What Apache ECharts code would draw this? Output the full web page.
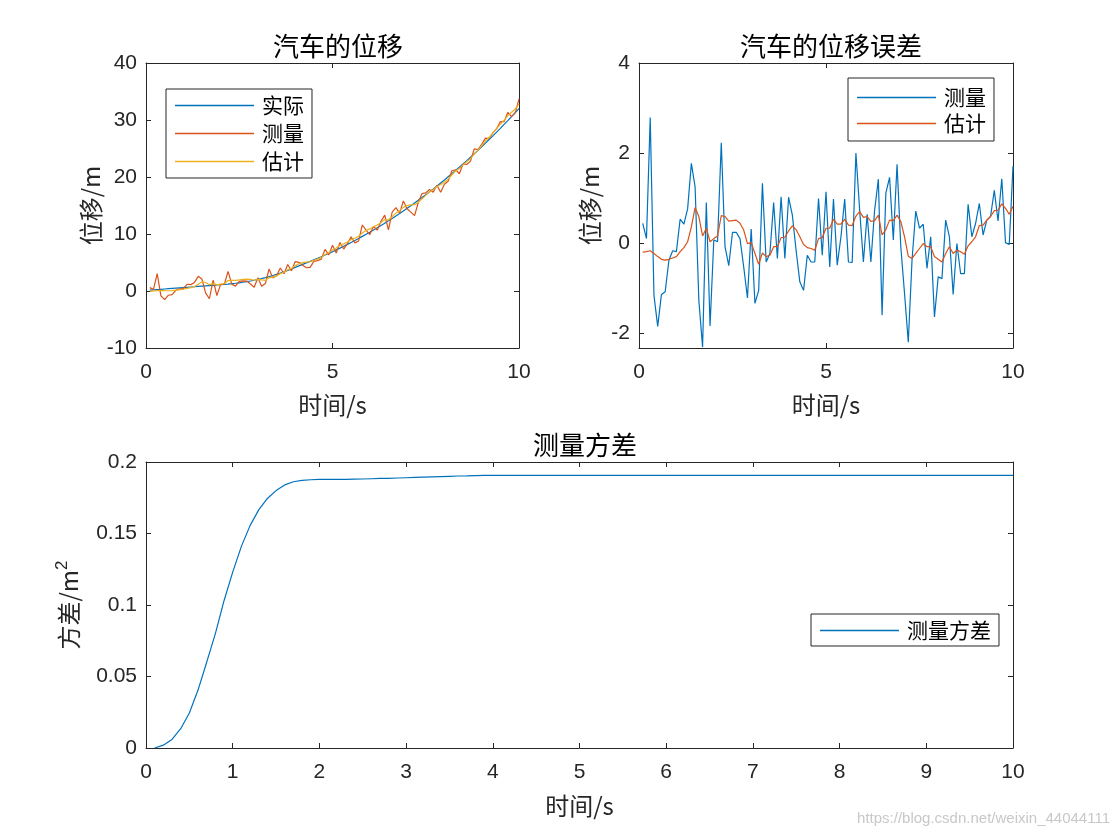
<!DOCTYPE html>
<html>
<head>
<meta charset="utf-8">
<script src="https://cdn.jsdelivr.net/npm/echarts@6/dist/echarts.min.js"></script>
<style>
html,body{margin:0;padding:0;background:#fff;}
#c{width:1120px;height:840px;}
</style>
</head>
<body>
<div id="c"></div>
<script>
// time axis: t = 0.1 .. 10.0 (step 0.1)
const time = [0.1,0.2,0.3,0.4,0.5,0.6,0.7,0.8,0.9,1.0,1.1,1.2,1.3,1.4,1.5,1.6,1.7,1.8,1.9,2.0,
2.1,2.2,2.3,2.4,2.5,2.6,2.7,2.8,2.9,3.0,3.1,3.2,3.3,3.4,3.5,3.6,3.7,3.8,3.9,4.0,
4.1,4.2,4.3,4.4,4.5,4.6,4.7,4.8,4.9,5.0,5.1,5.2,5.3,5.4,5.5,5.6,5.7,5.8,5.9,6.0,
6.1,6.2,6.3,6.4,6.5,6.6,6.7,6.8,6.9,7.0,7.1,7.2,7.3,7.4,7.5,7.6,7.7,7.8,7.9,8.0,
8.1,8.2,8.3,8.4,8.5,8.6,8.7,8.8,8.9,9.0,9.1,9.2,9.3,9.4,9.5,9.6,9.7,9.8,9.9,10.0];

// 汽车的位移
const actualPos = [0.15,0.20,0.25,0.30,0.35,0.40,0.45,0.50,0.55,0.60,0.65,0.70,0.75,0.80,0.85,0.90,0.95,1.00,1.05,1.10,
1.16,1.22,1.29,1.36,1.44,1.53,1.64,1.76,1.89,2.03,2.18,2.35,2.53,2.72,2.92,3.13,3.36,3.61,3.87,4.14,
4.41,4.68,4.94,5.20,5.47,5.74,6.02,6.31,6.60,6.90,7.21,7.52,7.85,8.18,8.52,8.86,9.21,9.58,9.94,10.32,
10.70,11.09,11.49,11.90,12.31,12.73,13.16,13.60,14.05,14.50,14.96,15.43,15.91,16.40,16.89,17.39,17.90,18.42,18.95,19.48,
20.03,20.58,21.14,21.71,22.29,22.87,23.47,24.07,24.68,25.31,25.94,26.57,27.22,27.88,28.54,29.22,29.90,30.59,31.29,32.00];
const measuredPos = [0.59,0.30,3.04,-0.86,-1.50,-0.74,-0.63,0.12,0.38,0.41,1.18,1.12,1.51,2.57,2.10,-0.37,-1.36,1.90,-0.79,1.17,
1.19,3.45,1.21,0.86,1.68,1.77,1.74,1.23,0.67,2.34,0.84,1.30,3.86,2.30,2.69,4.03,3.02,4.64,3.53,5.16,
5.03,4.52,4.08,4.15,5.20,5.32,5.60,7.30,6.33,8.04,6.68,8.50,7.36,8.32,9.50,8.44,8.78,11.58,10.67,9.90,
11.34,10.67,12.22,13.32,10.71,13.84,14.62,13.67,15.80,14.42,13.84,13.23,15.53,17.11,17.22,17.81,17.34,18.56,17.31,18.73,
19.24,21.09,21.28,20.57,22.28,22.19,22.79,24.93,24.82,25.75,26.82,26.75,27.73,28.47,29.71,29.71,31.33,30.60,31.26,33.71];
const estimatedPos = [-0.05,0.01,0.08,0.07,0.05,0.04,0.07,0.14,0.22,0.30,0.46,0.60,0.78,1.16,1.64,1.49,1.11,1.33,1.08,1.20,
1.32,1.83,1.88,1.85,1.94,2.04,2.08,2.05,1.88,2.04,1.95,1.88,2.31,2.42,2.65,3.05,3.28,3.73,4.00,4.41,
4.79,4.98,5.08,5.17,5.37,5.62,5.86,6.41,6.72,7.23,7.54,8.05,8.27,8.60,9.05,9.26,9.60,10.18,10.64,10.89,
11.29,11.57,11.99,12.52,12.49,13.03,13.67,14.10,14.67,14.98,15.10,15.14,15.57,16.17,16.77,17.38,17.82,18.34,18.65,19.12,
19.61,20.35,21.06,21.48,22.13,22.68,23.22,24.01,24.71,25.45,26.33,26.97,27.73,28.47,29.26,29.95,30.77,31.36,31.93,32.82];

// 汽车的位移误差
const measErr = [0.44,0.10,2.79,-1.16,-1.85,-1.14,-1.08,-0.38,-0.17,-0.19,0.53,0.42,0.76,1.77,1.25,-1.27,-2.31,0.90,-1.84,0.07,
0.03,2.23,-0.08,-0.50,0.24,0.24,0.10,-0.53,-1.22,0.31,-1.34,-1.05,1.33,-0.42,-0.23,0.90,-0.34,1.03,-0.34,1.02,
0.62,-0.16,-0.86,-1.05,-0.27,-0.42,-0.42,0.99,-0.27,1.14,-0.53,0.98,-0.49,0.14,0.98,-0.42,-0.43,2.00,0.73,-0.42,
0.64,-0.42,0.73,1.42,-1.60,1.11,1.46,0.07,1.75,-0.08,-1.12,-2.20,-0.38,0.71,0.33,0.42,-0.56,0.14,-1.64,-0.75,
-0.79,0.51,0.14,-1.14,-0.01,-0.68,-0.68,0.86,0.14,0.44,0.88,0.18,0.51,0.59,1.17,0.49,1.43,0.01,-0.03,1.71];
const estErr = [-0.20,-0.19,-0.17,-0.23,-0.30,-0.36,-0.38,-0.36,-0.33,-0.30,-0.19,-0.10,0.03,0.36,0.79,0.59,0.16,0.33,0.03,0.10,
0.16,0.61,0.59,0.49,0.50,0.51,0.44,0.29,-0.01,0.01,-0.23,-0.47,-0.22,-0.30,-0.27,-0.08,-0.08,0.12,0.13,0.27,
0.38,0.30,0.14,-0.03,-0.10,-0.12,-0.16,0.10,0.12,0.33,0.33,0.53,0.42,0.42,0.53,0.40,0.39,0.60,0.70,0.57,
0.59,0.48,0.50,0.62,0.18,0.30,0.51,0.50,0.62,0.48,0.14,-0.29,-0.34,-0.23,-0.12,-0.01,-0.08,-0.08,-0.30,-0.36,
-0.42,-0.23,-0.08,-0.23,-0.16,-0.19,-0.25,-0.06,0.03,0.14,0.39,0.40,0.51,0.59,0.72,0.73,0.87,0.77,0.64,0.82];

// 测量方差
const measVar = [0.0000,0.0020,0.0060,0.0135,0.0245,0.0405,0.0600,0.0800,0.1030,0.1230,0.1410,0.1555,0.1665,0.1745,0.1800,0.1840,0.1862,0.1872,0.1876,0.1878,
0.1878,0.1879,0.1879,0.1880,0.1881,0.1883,0.1885,0.1886,0.1888,0.1890,0.1892,0.1894,0.1896,0.1898,0.1900,0.1902,0.1903,0.1905,0.1906,0.1907,
0.1907,0.1907,0.1907,0.1907,0.1907,0.1907,0.1907,0.1907,0.1907,0.1907,0.1907,0.1907,0.1907,0.1907,0.1907,0.1907,0.1907,0.1907,0.1907,0.1907,
0.1907,0.1907,0.1907,0.1907,0.1907,0.1907,0.1907,0.1907,0.1907,0.1907,0.1907,0.1907,0.1907,0.1907,0.1907,0.1907,0.1907,0.1907,0.1907,0.1907,
0.1907,0.1907,0.1907,0.1907,0.1907,0.1907,0.1907,0.1907,0.1907,0.1907,0.1907,0.1907,0.1907,0.1907,0.1907,0.1907,0.1907,0.1907,0.1907,0.1907];

const titles = ['汽车的位移', '汽车的位移误差', '测量方差'];
const xName = '时间/s';
const yNames = ['位移/m', '位移/m'];

const BLUE = '#0072BD', ORANGE = '#D95319', YELLOW = '#EDB120', AX = '#262626';
const FONT = '"Liberation Sans", Arial, "Noto Sans CJK SC", sans-serif';
const CJK = '"Noto Sans CJK SC", "Liberation Sans", sans-serif';
const ZW = '\u200b';

function pair(arrX, arrY){ return arrX.map((x,i)=>[x, arrY[i]]); }

const grids = [
  {left:146, top:63, width:373, height:285},
  {left:639, top:63, width:374, height:285},
  {left:146, top:462, width:867, height:286}
];

function mkX(gi, interval, main, gap){
  return {
    type:'value', gridIndex:gi, min:0, max:10, interval:interval,
    position: main ? 'bottom' : 'top',
    name: main ? xName : '', nameLocation:'middle', nameGap:gap || 45,
    nameTextStyle:{fontFamily:CJK, fontSize:24, color:AX},
    axisLine:{show:true, onZero:false, lineStyle:{color:AX, width:1}},
    axisTick:{show:true, inside:true, length:5, lineStyle:{color:AX, width:1}},
    axisLabel:{show:main, fontFamily:FONT, fontSize:21, color:AX, margin:14},
    splitLine:{show:false}
  };
}
function mkY(gi, opts, main){
  return Object.assign({
    type:'value', gridIndex:gi,
    position: main ? 'left' : 'right',
    nameLocation:'middle', nameRotate:90,
    nameTextStyle:{fontFamily:CJK, fontSize:24, color:AX},
    axisLine:{show:true, onZero:false, lineStyle:{color:AX, width:1}},
    axisTick:{show:true, inside:true, length:5, lineStyle:{color:AX, width:1}},
    axisLabel:{show:main, fontFamily:FONT, fontSize:21, color:AX, margin:9},
    splitLine:{show:false}
  }, opts);
}

const xAxes = [
  mkX(0,5,true,45), mkX(0,5,false),
  mkX(1,5,true,45), mkX(1,5,false),
  mkX(2,1,true,46), mkX(2,1,false)
];
const yTL = {min:-10, max:40, interval:10};
const yTR = {min:-2.33, max:4, splitNumber:3};
const yB = {min:0, max:0.2, interval:0.05};
const yAxes = [
  mkY(0, Object.assign({name:yNames[0], nameGap:37}, yTL), true),
  mkY(0, Object.assign({name:''}, yTL), false),
  mkY(1, Object.assign({name:yNames[1], nameGap:37, axisLabel:{show:true, fontFamily:FONT, fontSize:21, color:AX, margin:9, showMinLabel:false}}, yTR), true),
  mkY(1, Object.assign({name:''}, yTR), false),
  mkY(2, Object.assign({name:'{a|方差/m}{s|2}', nameGap:62,
        nameTextStyle:{fontFamily:CJK, fontSize:24, color:AX,
          rich:{a:{fontFamily:CJK, fontSize:24, color:AX}, s:{fontFamily:FONT, fontSize:17, color:AX, padding:[0,0,13,0]}}}}, yB), true),
  mkY(2, Object.assign({name:''}, yB), false)
];

function line(name, xi, yi, data, color){
  return {type:'line', name:name, xAxisIndex:xi, yAxisIndex:yi, data:data, showSymbol:false, symbol:'none',
          lineStyle:{color:color, width:1.2}, itemStyle:{color:color}, emphasis:{disabled:true}};
}

const series = [
  line('实际', 0, 0, pair(time, actualPos), BLUE),
  line('测量', 0, 0, pair(time, measuredPos), ORANGE),
  line('估计', 0, 0, pair(time, estimatedPos), YELLOW),
  line('测量'+ZW, 2, 2, pair(time, measErr), BLUE),
  line('估计'+ZW, 2, 2, pair(time, estErr), ORANGE),
  line('测量方差', 4, 4, pair(time, measVar), BLUE)
];

function legend(names, left, top, gap, pad){
  return {
    data: names, left:left, top:top, orient:'vertical',
    icon:'rect', itemWidth:79, itemHeight:1.5, itemGap:gap,
    borderColor:'#262626', borderWidth:1, padding:pad,
    backgroundColor:'#fff', selectedMode:false,
    textStyle:{fontFamily:CJK, fontSize:21, color:'#000', padding:[0,0,0,3]},
    formatter: n => n.replace(/\u200b/g,'')
  };
}

const option = {
  animation:false,
  backgroundColor:'#fff',
  title: [
    {text:titles[0], left:333, top:28, textAlign:'center', textStyle:{fontFamily:CJK, fontSize:26, fontWeight:'normal', color:'#000'}},
    {text:titles[1], left:826, top:28, textAlign:'center', textStyle:{fontFamily:CJK, fontSize:26, fontWeight:'normal', color:'#000'}},
    {text:titles[2], left:580, top:427, textAlign:'center', textStyle:{fontFamily:CJK, fontSize:26, fontWeight:'normal', color:'#000'}}
  ],
  grid: grids,
  xAxis: xAxes,
  yAxis: yAxes,
  legend: [
    legend(['实际','测量','估计'], 166, 89, 7, [6,8,6,9]),
    legend(['测量'+ZW,'估计'+ZW], 848, 78, 5, [9,8,7,9]),
    legend(['测量方差'], 811, 614, 5, [6,8,5,9])
  ],
  series: series,
  graphic: [
    {type:'text', right:10, top:811, style:{text:'https://blog.csdn.net/weixin_44044111', fill:'#c8c8c8', font:'15px "Liberation Sans", Arial, sans-serif'}}
  ]
};

const chart = echarts.init(document.getElementById('c'), null, {renderer:'canvas'});
chart.setOption(option);
</script>
</body>
</html>
